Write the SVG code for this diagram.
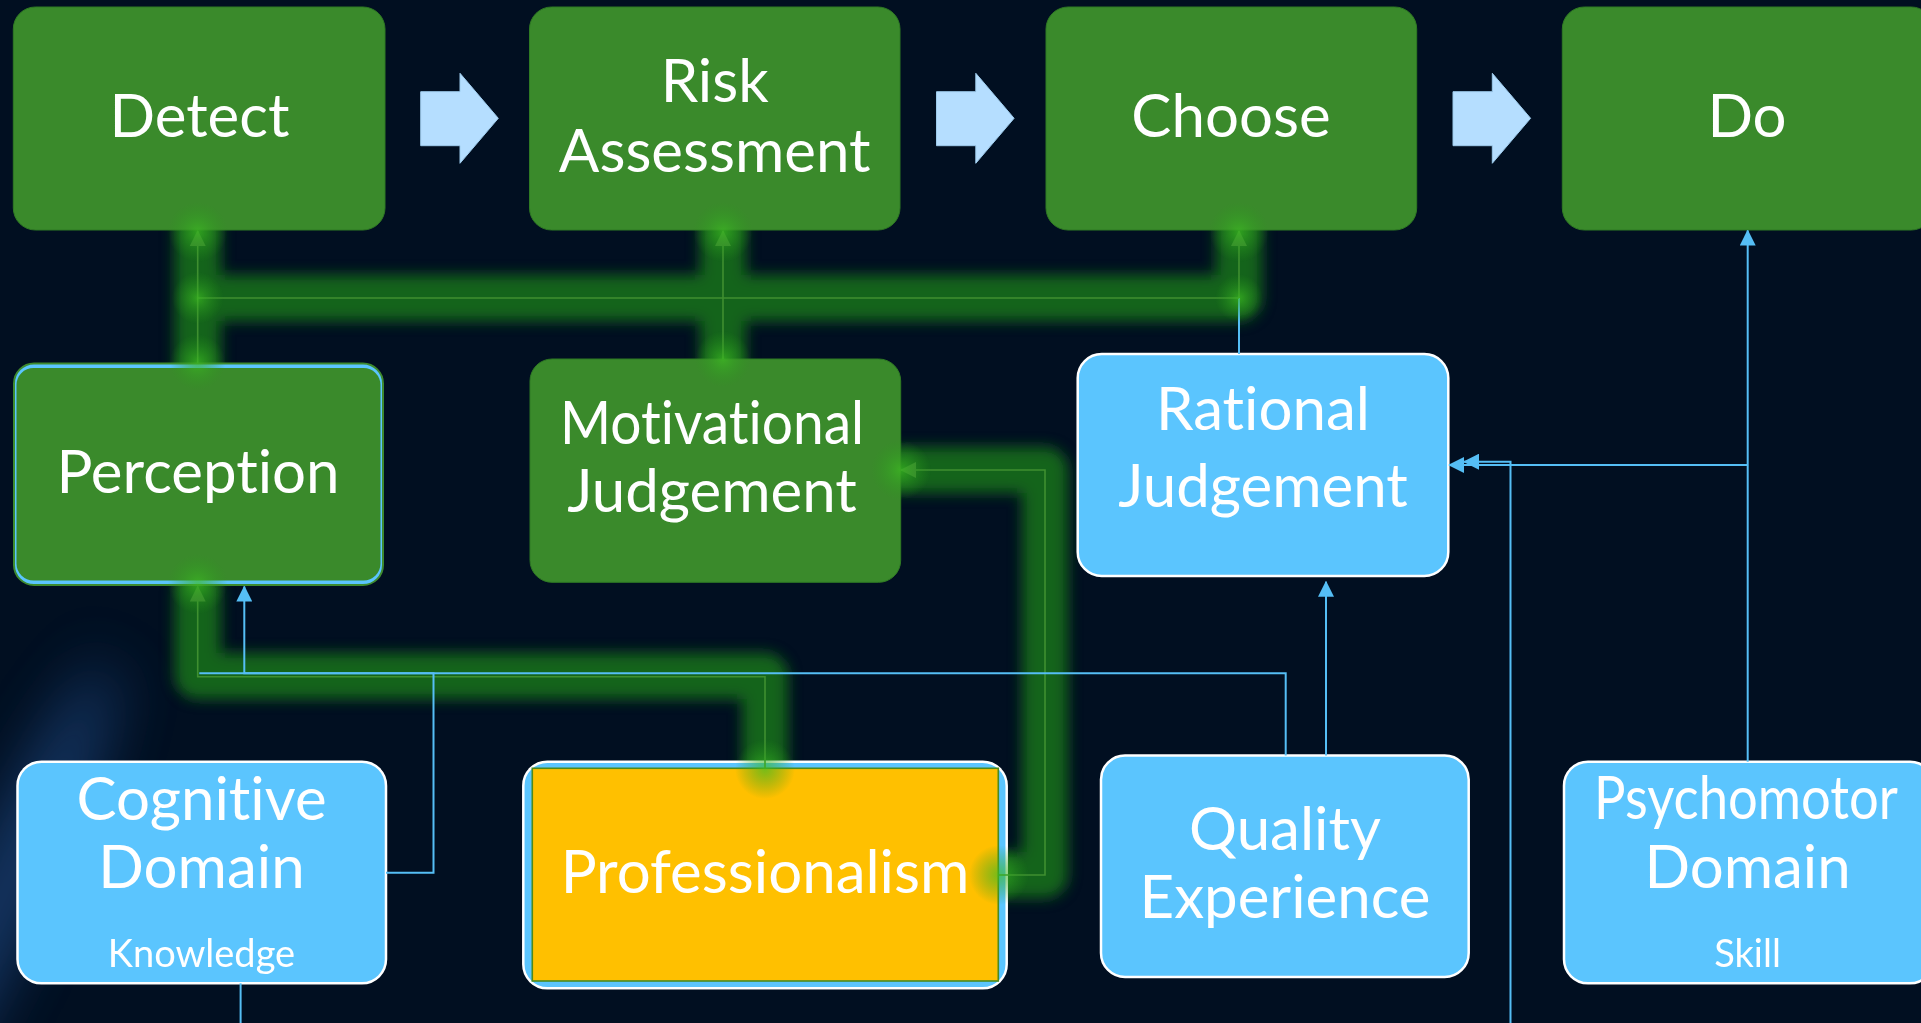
<svg xmlns="http://www.w3.org/2000/svg" width="1921" height="1023" viewBox="0 0 1921 1023">
<defs>
<style>
.g{fill:#3A8A2B;stroke:#2F7A24;stroke-width:1}
.b{fill:#5BC5FE;stroke:#FFFFFF;stroke-width:2.5}
.t{font-family:Lato,'Open Sans','DejaVu Sans',sans-serif;fill:#FFFFFF;text-anchor:middle;font-size:60px;font-variant-ligatures:none}
.s{font-size:38px}
.cb{stroke:#55BEF5;stroke-width:2;fill:none}
.cg{stroke:#3F8F30;stroke-width:1.6;fill:none}
.glow{stroke:#177C1A;stroke-width:46;fill:none;opacity:.78;stroke-linecap:round;stroke-linejoin:round}
.arr{fill:#B5DEFF;stroke:#9DCBEC;stroke-width:1}
.spot{fill:url(#sp)}
</style>
<filter id="blur" x="-20%" y="-20%" width="140%" height="140%"><feGaussianBlur stdDeviation="7"/></filter>
<filter id="bgblur" x="-100%" y="-100%" width="300%" height="300%"><feGaussianBlur stdDeviation="30"/></filter>
<radialGradient id="sp"><stop offset="0" stop-color="#3DBB22" stop-opacity="0.7"/><stop offset="0.5" stop-color="#33AA20" stop-opacity="0.35"/><stop offset="1" stop-color="#2A9A1A" stop-opacity="0"/></radialGradient>
<marker id="ab" markerUnits="userSpaceOnUse" markerWidth="16" markerHeight="16" viewBox="0 0 16 16" refX="15" refY="8" orient="auto"><path d="M0,0 L16,8 L0,16 z" fill="#55BEF5"/></marker>
<marker id="ag" markerUnits="userSpaceOnUse" markerWidth="16" markerHeight="16" viewBox="0 0 16 16" refX="15" refY="8" orient="auto"><path d="M0,0 L16,8 L0,16 z" fill="#3A8530"/></marker>
</defs>

<rect width="1921" height="1023" fill="#010F21"/>
<ellipse cx="0" cy="900" rx="38" ry="260" fill="#2A5FA8" opacity="0.5" transform="rotate(25 0 900)" filter="url(#bgblur)"/>

<g id="glows" filter="url(#blur)">
<path class="glow" d="M197.7,225 V372 M197.7,298 H1239 M723,225 V366 M1239,225 V298"/>
<path class="glow" d="M197.7,592 V676 H765 V768"/>
<path class="glow" d="M904,470 H1045 V875 H1000"/>
</g>

<g id="flow-arrows">
<polygon class="arr" points="420.7,91.7 460,91.7 460,73.3 498.3,118.3 460,163.3 460,145.7 420.7,145.7"/>
<polygon class="arr" points="936.5,91.7 975.8,91.7 975.8,73.3 1014.1,118.3 975.8,163.3 975.8,145.7 936.5,145.7"/>
<polygon class="arr" points="1453,91.7 1492.3,91.7 1492.3,73.3 1530.6,118.3 1492.3,163.3 1492.3,145.7 1453,145.7"/>
</g>

<g id="detect"><rect class="g" x="13.3" y="7" width="371.7" height="223" rx="22"/><text class="t" x="199.5" y="137">Detect</text></g>
<g id="risk-assessment"><rect class="g" x="529.5" y="7" width="370.5" height="223" rx="22"/><text class="t" x="714.7" y="101.7">Risk</text><text class="t" x="714.7" y="171.7">Assessment</text></g>
<g id="choose"><rect class="g" x="1046" y="7" width="370.7" height="223" rx="22"/><text class="t" x="1231" y="137">Choose</text></g>
<g id="do"><rect class="g" x="1562.3" y="7" width="371" height="223" rx="22"/><text class="t" x="1747" y="137">Do</text></g>

<g id="perception"><rect x="14" y="363.5" width="369" height="221.5" rx="20" fill="#5BC5FE" stroke="#3E8A2E" stroke-width="2"/><rect x="16.5" y="368" width="364" height="212.5" rx="17" fill="#3A8A2B"/><text class="t" x="198" y="492.7">Perception</text></g>
<g id="motivational-judgement"><rect class="g" x="530" y="359" width="370.7" height="223.3" rx="22"/><text class="t" x="712" y="444" textLength="304" lengthAdjust="spacingAndGlyphs">Motivational</text><text class="t" x="712" y="511.7">Judgement</text></g>
<g id="rational-judgement"><rect class="b" x="1077.7" y="354" width="370.6" height="222" rx="24"/><text class="t" x="1263" y="430">Rational</text><text class="t" x="1263" y="506.7">Judgement</text></g>

<g id="cognitive-domain"><rect class="b" x="17.5" y="761.7" width="368.5" height="221.6" rx="24"/><text class="t" x="201.5" y="820">Cognitive</text><text class="t" x="201.5" y="888.3">Domain</text><text class="t s" x="201.5" y="966.7">Knowledge</text></g>
<g id="professionalism"><rect class="b" x="523.3" y="761.7" width="483.4" height="226.6" rx="24"/><rect x="532.3" y="768.3" width="466" height="212.7" fill="#FFC000" stroke="#4C8A1F" stroke-width="1.6"/><text class="t" x="765" y="893.3">Professionalism</text></g>
<g id="quality-experience"><rect class="b" x="1101" y="755.5" width="367.7" height="221.5" rx="24"/><text class="t" x="1285" y="850">Quality</text><text class="t" x="1285" y="918.3">Experience</text></g>
<g id="psychomotor-domain"><rect class="b" x="1564" y="761.7" width="370" height="221.6" rx="24"/><text class="t" x="1746" y="819.3" textLength="304" lengthAdjust="spacingAndGlyphs">Psychomotor</text><text class="t" x="1747.6" y="888.3">Domain</text><text class="t s" x="1747.6" y="966.7">Skill</text></g>

<g id="connectors">
<path class="cb" d="M1239,354 V298"/>
<path class="cg" d="M197.7,298 H1239"/>
<path class="cg" d="M197.7,363 V231" marker-end="url(#ag)"/>
<path class="cg" d="M723,359 V231" marker-end="url(#ag)"/>
<path class="cg" d="M1239,298 V231" marker-end="url(#ag)"/>
<path class="cg" d="M765,768 V676.7 H197.7 V586.5" marker-end="url(#ag)"/>
<path class="cg" d="M998.3,875 H1045 V470 H901" marker-end="url(#ag)"/>
<path class="cb" d="M1285.7,755.5 V673.3 H244.3 V586.5" marker-end="url(#ab)"/>
<path class="cb" d="M386,872.7 H433.5 V673.3 H199.3"/>
<path class="cb" d="M240.6,983.3 V1023"/>
<path class="cb" d="M1326,755.5 V581.7" marker-end="url(#ab)"/>
<path class="cb" d="M1747.7,761.7 V230.5" marker-end="url(#ab)"/>
<path class="cb" d="M1747.7,465 H1449" marker-end="url(#ab)"/>
<path class="cb" d="M1510.5,1023 V461.7 H1464" marker-end="url(#ab)"/>
</g>

<g id="glow-spots">
<circle class="spot" cx="197.7" cy="232" r="30"/>
<circle class="spot" cx="197.7" cy="298" r="26"/>
<circle class="spot" cx="197.7" cy="362" r="28"/>
<circle class="spot" cx="723" cy="232" r="30"/>
<circle class="spot" cx="723" cy="359" r="28"/>
<circle class="spot" cx="1239" cy="232" r="30"/>
<circle class="spot" cx="1239" cy="298" r="24"/>
<circle class="spot" cx="197.7" cy="584" r="30"/>
<circle class="spot" cx="765" cy="769" r="30"/>
<circle class="spot" cx="999" cy="875" r="30"/>
<circle class="spot" cx="901" cy="470" r="30"/>
</g>
</svg>
